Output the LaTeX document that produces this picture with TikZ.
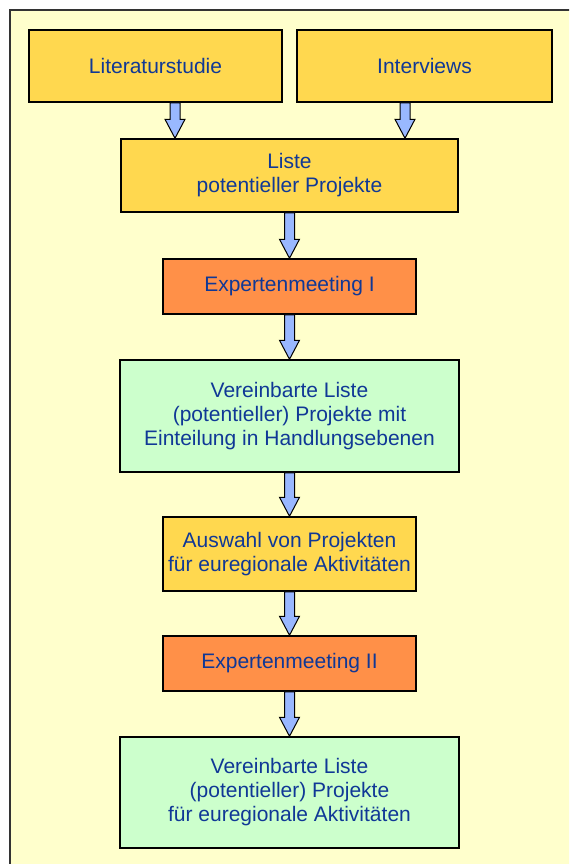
\documentclass[tikz,border=0pt]{standalone}
\usepackage{fontspec}
\setmainfont{Liberation Sans}
\usetikzlibrary{calc,shadows}
\definecolor{paneyellow}{HTML}{FFFFCC}
\definecolor{boxgold}{HTML}{FFD84F}
\definecolor{boxorange}{HTML}{FF9048}
\definecolor{boxgreen}{HTML}{CCFFCC}
\definecolor{arrowblue}{HTML}{99B8FF}
\definecolor{textblue}{RGB}{16,56,150}
\tikzset{
  stepbox/.style={draw=black, line width=0.75pt, text=textblue, align=center,
    inner sep=0pt, font=\fontsize{10.5pt}{12pt}\selectfont,
    drop shadow={shadow xshift=0.7pt, shadow yshift=-0.7pt, fill=black!50, opacity=0.6}},
  goldbox/.style={stepbox, fill=boxgold},
  orangebox/.style={stepbox, fill=boxorange},
  greenbox/.style={stepbox, fill=boxgreen},
  flowarrow/.style={draw=black, line width=0.5pt, fill=arrowblue, line join=miter}
}
\newcommand{\flowstep}[2]{%
  \draw[flowarrow] let \p1=(#1), \p2=(#2) in
    (\x1-2.5pt,\y1) -- (\x1+2.5pt,\y1) -- (\x1+2.5pt,\y2+9.5pt) -- (\x1+5pt,\y2+9.5pt)
    -- (\x1,\y2) -- (\x1-5pt,\y2+9.5pt) -- (\x1-2.5pt,\y2+9.5pt) -- cycle;}
\begin{document}
\begin{tikzpicture}[x=0.5pt, y=-0.5pt]
  \path[use as bounding box, clip] (0,0) rectangle (569,864);
  \fill[white] (0,0) rectangle (569,864);
  \draw[black!80, line width=0.75pt, fill=paneyellow] (10,10) rectangle (620,920);

  \node[goldbox, minimum width=126.5pt, minimum height=36pt] (lit) at (155.5,66) {Literaturstudie};
  \node[goldbox, minimum width=127.5pt, minimum height=36pt] (intv) at (424.5,66) {Interviews};
  \node[goldbox, minimum width=168.5pt, minimum height=36.5pt] (liste) at (289.5,175.5) {Liste\\potentieller Projekte};
  \node[orangebox, minimum width=126.5pt, minimum height=27.5pt] (meet1) at (289.5,286.5) {Expertenmeeting I};
  \node[greenbox, minimum width=169.5pt, minimum height=56pt] (agreed1) at (289.5,416) {Vereinbarte Liste\\(potentieller) Projekte mit\\Einteilung in Handlungsebenen};
  \node[goldbox, minimum width=126.5pt, minimum height=37pt] (select) at (289.5,554) {Auswahl von Projekten\\f\"ur euregionale Aktivit\"aten};
  \node[orangebox, minimum width=126.5pt, minimum height=27.5pt] (meet2) at (289.5,663.5) {Expertenmeeting II};
  \node[greenbox, minimum width=169.5pt, minimum height=55.5pt] (agreed2) at (289.5,792.5) {Vereinbarte Liste\\(potentieller) Projekte\\f\"ur euregionale Aktivit\"aten};

  \coordinate (litout) at ([xshift=9.75pt]lit.south);
  \coordinate (intvout) at ([xshift=-9.75pt]intv.south);
  \flowstep{litout}{litout |- liste.north}
  \flowstep{intvout}{intvout |- liste.north}
  \flowstep{liste.south}{meet1.north}
  \flowstep{meet1.south}{agreed1.north}
  \flowstep{agreed1.south}{select.north}
  \flowstep{select.south}{meet2.north}
  \flowstep{meet2.south}{agreed2.north}
\end{tikzpicture}
\end{document}
